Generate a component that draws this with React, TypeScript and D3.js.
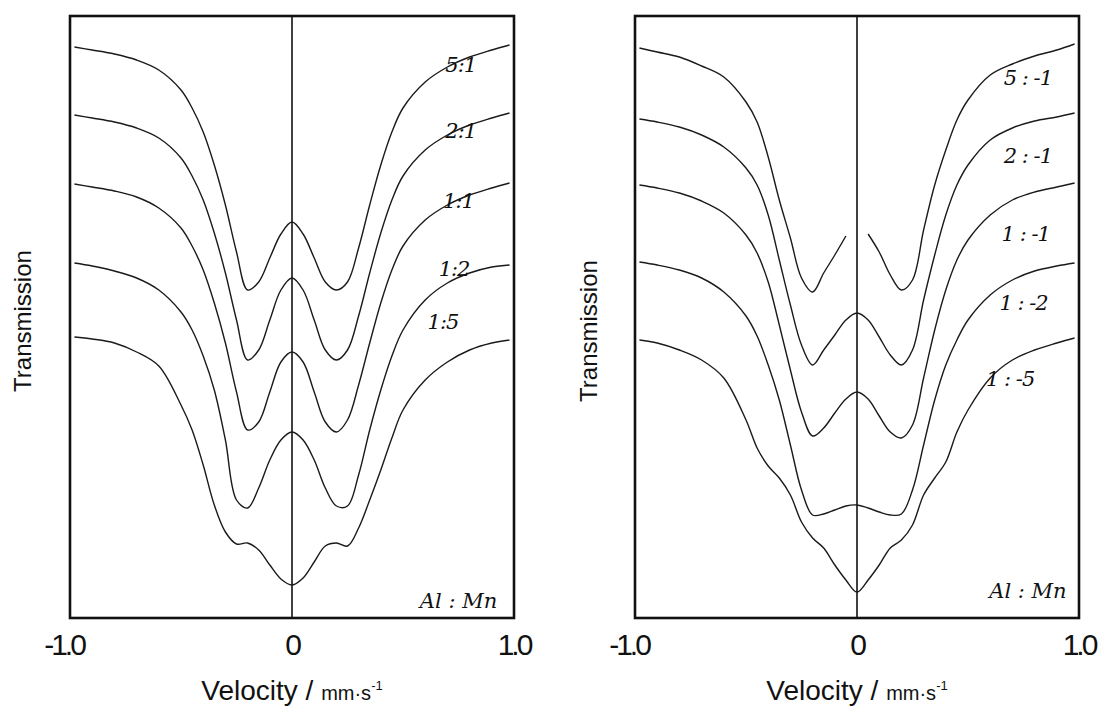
import * as d3 from 'd3';

// velocity grid (mm/s) shared by all traces
const velocity = [
  -0.98, -0.9, -0.8, -0.7, -0.6, -0.5, -0.45, -0.4, -0.35, -0.3, -0.25, -0.2, -0.15, -0.1, -0.05, 0,
  0.05, 0.1, 0.15, 0.2, 0.25, 0.3, 0.35, 0.4, 0.45, 0.5, 0.6, 0.7, 0.8, 0.9, 0.98,
];

// left panel, Al:Mn positive ratios (arbitrary transmission units, traces offset)
const pos51 = [57.1, 56.8, 56.4, 55.8, 54.8, 52.8, 51.0, 48.6, 45.3, 41.3, 36.6, 32.8, 33.6, 36.0, 38.4, 39.6, 38.4, 36.0, 33.6, 32.8, 33.6, 37.0, 41.3, 45.3, 48.6, 51.0, 53.6, 55.1, 56.1, 56.8, 57.3];
const pos21 = [50.3, 50.0, 49.6, 49.0, 48.0, 46.0, 44.2, 41.8, 38.5, 34.5, 29.8, 25.8, 26.8, 29.8, 32.8, 34.0, 32.8, 29.8, 26.8, 25.8, 26.8, 30.2, 34.5, 38.5, 41.8, 44.2, 46.8, 48.3, 49.3, 50.0, 50.5];
const pos11 = [43.4, 43.1, 42.7, 42.1, 41.0, 39.0, 37.2, 34.8, 31.5, 27.5, 22.6, 18.8, 19.6, 22.6, 25.6, 26.6, 25.6, 22.6, 19.6, 18.6, 19.8, 23.3, 27.5, 31.5, 34.8, 37.2, 39.8, 41.3, 42.3, 43.0, 43.5];
const pos12 = [35.5, 35.2, 34.7, 34.0, 32.8, 30.6, 28.8, 26.2, 22.8, 17.8, 11.8, 11.0, 13.0, 15.8, 17.8, 18.6, 17.8, 15.8, 13.0, 11.2, 11.2, 14.3, 18.8, 22.8, 26.2, 28.8, 31.8, 33.5, 34.5, 35.1, 35.3];
const pos15 = [28.1, 27.9, 27.5, 26.6, 25.2, 21.3, 18.8, 15.3, 11.3, 8.6, 7.4, 7.5, 6.8, 5.3, 3.9, 3.3, 4.0, 5.6, 7.2, 7.5, 7.2, 9.0, 11.8, 14.8, 18.0, 20.8, 23.8, 25.6, 26.8, 27.5, 27.8];

// right panel, Al:Mn negative ratios (NaN = pen lifted at the cusp)
const neg51 = [57.0, 56.6, 56.1, 55.2, 54.1, 51.6, 49.6, 46.1, 41.8, 38.0, 34.0, 32.6, 34.5, 36.3, 38.2, NaN, 38.4, 36.6, 34.3, 32.8, 33.8, 38.8, 43.3, 46.8, 49.8, 51.8, 54.3, 55.4, 56.2, 56.8, 57.4];
const neg21 = [49.9, 49.6, 49.1, 48.3, 47.1, 45.0, 43.3, 40.3, 35.8, 31.3, 27.3, 25.3, 26.8, 28.3, 29.8, 30.5, 29.8, 28.1, 26.3, 25.3, 26.8, 31.8, 36.3, 40.3, 43.3, 45.3, 47.8, 49.0, 49.7, 50.1, 50.5];
const neg11 = [43.3, 43.0, 42.5, 41.7, 40.5, 38.3, 36.5, 33.6, 29.3, 24.8, 20.6, 18.2, 19.0, 20.5, 21.9, 22.6, 21.9, 20.2, 18.6, 18.0, 19.3, 24.0, 28.8, 32.8, 35.8, 37.8, 40.3, 41.8, 42.6, 43.1, 43.5];
const neg12 = [35.6, 35.3, 34.8, 34.0, 32.6, 30.2, 28.2, 25.3, 21.8, 17.3, 12.8, 10.3, 10.4, 10.8, 11.2, 11.3, 11.0, 10.6, 10.3, 10.4, 12.8, 17.3, 21.8, 25.3, 27.8, 29.8, 32.3, 33.8, 34.7, 35.2, 35.5];
const neg15 = [27.8, 27.5, 26.8, 25.8, 24.0, 19.8, 17.0, 15.2, 14.0, 12.3, 9.6, 8.0, 7.0, 5.3, 3.8, 2.6, 3.8, 5.3, 7.0, 7.8, 9.3, 12.3, 14.0, 15.6, 18.6, 20.8, 24.0, 25.8, 26.8, 27.5, 28.0];

const posNames = ['5:1', '2:1', '1:1', '1:2', '1:5'];
const negNames = ['5 : -1', '2 : -1', '1 : -1', '1 : -2', '1 : -5'];

// label anchors in data units [velocity, transmission]
const posLabelAt = [[0.76, 54.6], [0.76, 48.0], [0.75, 41.0], [0.73, 34.2], [0.68, 28.9]];
const negLabelAt = [[0.77, 53.3], [0.77, 45.5], [0.76, 37.7], [0.75, 30.8], [0.69, 23.2]];
const compLabel = 'Al : Mn';
const posCompAt = [0.75, 1.0];
const negCompAt = [0.77, 2.0];

const xTicks = [-1, 0, 1];
const xTickLabels = ['-1.0', '0', '1.0'];

const top = 16;
const bottom = 618;

const handFont = { fontFamily: 'DejaVu Serif', fontStyle: 'italic', fontSize: 21, fill: '#111' };

function Panel({ left, right, series, names, labelAt, compAt, yLabelX, yLabelY }) {
  const x = d3.scaleLinear().domain([-1, 1]).range([left, right]);
  const y = d3.scaleLinear().domain([0, 60.2]).range([bottom, top]);
  const line = d3
    .line<number>()
    .defined((d) => !isNaN(d))
    .x((d, i) => x(velocity[i]))
    .y((d) => y(d))
    .curve(d3.curveCatmullRom.alpha(0.5));

  return (
    <g>
      <rect x={left} y={top} width={right - left} height={bottom - top} fill="none" stroke="#111" strokeWidth={2.6} />
      <line x1={x(0)} x2={x(0)} y1={top} y2={bottom} stroke="#111" strokeWidth={1.6} />
      {series.map((s, i) => (
        <path key={i} d={line(s)} fill="none" stroke="#1a1a1a" strokeWidth={1.4} />
      ))}
      {names.map((n, i) => (
        <text key={n} x={x(labelAt[i][0])} y={y(labelAt[i][1])} textAnchor="middle" letterSpacing={-1} style={handFont}>
          {n}
        </text>
      ))}
      <text x={x(compAt[0])} y={y(compAt[1])} textAnchor="middle" style={handFont}>
        {compLabel}
      </text>
      {xTicks.map((t, i) => (
        <text
          key={t}
          x={x(t) + (t < 0 ? -6 : 0)}
          y={655}
          textAnchor="middle"
          fontFamily="Liberation Sans"
          fontSize={30}
          letterSpacing={-3}
          fill="#111"
        >
          {xTickLabels[i]}
        </text>
      ))}
      <text x={x(0)} y={700} textAnchor="middle" fontFamily="Liberation Sans" fill="#111">
        <tspan fontSize={28}>Velocity / </tspan>
        <tspan fontSize={20}>mm·s</tspan>
        <tspan fontSize={13} dy={-10}>-1</tspan>
      </text>
      <text
        transform={`translate(${yLabelX},${yLabelY}) rotate(-90)`}
        textAnchor="middle"
        fontFamily="Liberation Sans"
        fontSize={24}
        fill="#111"
      >
        Transmission
      </text>
    </g>
  );
}

export default function App() {
  return (
    <svg width={1104} height={720} style={{ display: 'block', position: 'absolute', left: 0, top: 0, background: '#fff' }}>
      <rect width={1104} height={720} fill="#fff" />
      <Panel
        left={70}
        right={514}
        series={[pos51, pos21, pos11, pos12, pos15]}
        names={posNames}
        labelAt={posLabelAt}
        compAt={posCompAt}
        yLabelX={31}
        yLabelY={321}
      />
      <Panel
        left={635}
        right={1079}
        series={[neg51, neg21, neg11, neg12, neg15]}
        names={negNames}
        labelAt={negLabelAt}
        compAt={negCompAt}
        yLabelX={597}
        yLabelY={331}
      />
    </svg>
  );
}
